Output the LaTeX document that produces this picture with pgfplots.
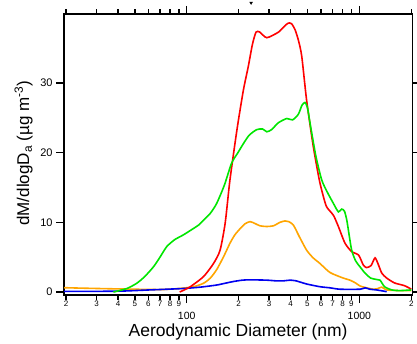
\documentclass[border=0pt]{standalone}
\usepackage{pgfplots}
\pgfplotsset{compat=1.18}
\usepackage{fontspec}
\setmainfont{Liberation Sans}
\definecolor{cred}{RGB}{255,0,0}
\definecolor{cgreen}{RGB}{0,230,0}
\definecolor{corange}{RGB}{255,165,0}
\definecolor{cblue}{RGB}{0,0,240}
\begin{document}
\begin{tikzpicture}
\begin{axis}[
  name=ax,
  scale only axis,
  width=348.3pt, height=281pt,
  xmode=log,
  xmin=19.45, xmax=2027,
  ymin=-0.43, ymax=39.9,
  clip=false,
  axis line style={line width=1.6pt},
  tick style={line width=1.5pt, black},
  tick align=outside,
  major tick length=4.5pt,
  minor xtick={},
  xtick={20,30,40,50,60,70,80,90,200,300,400,500,600,700,800,900,2000},
  xticklabels={2,3,4,5,6,7,8,9,2,3,4,5,6,7,8,9,2},
  xticklabel style={font=\fontsize{8}{9}\selectfont, inner sep=1pt},
  extra x ticks={100,1000},
  extra x tick labels={100,1000},
  extra x tick style={major tick length=8pt,
     xticklabel style={font=\fontsize{10.5}{12}\selectfont, yshift=-8pt}},
  ytick=\empty,
  extra y ticks={0,10,20,30},
  extra y tick style={major tick length=8pt},
  yticklabel style={font=\fontsize{11}{13}\selectfont},
  y tick label style={/pgf/number format/assume math mode=true},
  xlabel={Aerodynamic Diameter (nm)},
  xlabel style={font=\fontsize{17.5}{20}\selectfont, at={(axis description cs:0.5,-0.146)}, anchor=base},
  ylabel={dM/dlogD\textsubscript{a} (µg m\textsuperscript{-3})},
  ylabel style={font=\fontsize{17}{20}\selectfont, at={(axis description cs:-0.10,0.505)}, anchor=base},
]
\addplot[corange, line width=1.6pt, smooth, tension=0.4] coordinates {
(19.45,0.62) (25,0.55) (39,0.45) (70,0.35) (90,0.5) (109,0.75) (125,1.25) (137,2.0) (149,3.2) (163,5.0) (178,7.0) (190,8.2) (204,9.1) (218,9.8) (233,10.1) (250,9.8) (266,9.5) (290,9.4) (318,9.5) (347,10.0) (371,10.2) (390,10.1) (415,9.6) (450,7.9) (495,6.0) (540,4.9) (591,4.1) (676,2.8) (807,2.0) (883,1.7) (950,1.3) (1010,0.86) (1100,0.6) (1208,0.4) (1280,0.5) (1350,0.7) (1440,0.3) (1720,0.2) (2000,0.2)
};
\addplot[cblue, line width=1.6pt, smooth, tension=0.4] coordinates {
(19.45,0.08) (40,0.12) (61,0.3) (95,0.5) (120,0.7) (149,1.0) (170,1.3) (186,1.5) (210,1.7) (233,1.75) (291,1.7) (330,1.6) (363,1.6) (397,1.7) (430,1.6) (495,1.15) (591,0.76) (676,0.6) (772,0.4) (1010,0.4) (1080,0.6) (1150,0.4) (1258,0.3) (1440,0.05)
};
\addplot[cred, line width=1.6pt, smooth, tension=0.4] coordinates {
(91,0) (104,0.7) (125,2.2) (143,4.1) (156,6.0) (167,9.9) (178,16.1) (196,23.5) (213,29) (227,32.3) (240,35.5) (252,37.3) (265,37.3) (291,36.5) (340,37.3) (370,38.2) (388,38.6) (405,38.5) (425,37.6) (445,36) (464,33.8) (495,27.5) (540,21) (586,16.1) (619,13.7) (647,12.2) (708,11) (756,9.4) (826,7.0) (903,5.8) (990,5.3) (1053,3.9) (1100,3.5) (1170,3.8) (1233,4.9) (1290,3.9) (1350,2.7) (1440,2.0) (1600,1.3) (1830,0.9) (2000,0.4)
};
\addplot[cgreen, line width=1.6pt, smooth, tension=0.4] coordinates {
(37.6,0) (45,0.5) (51.3,1.25) (57,2.2) (64.1,3.6) (70,5.0) (76.5,6.5) (85,7.5) (95.6,8.2) (106,8.9) (117,9.6) (125,10.3) (137,11.3) (149,12.7) (165,15.3) (182,18.5) (198,20) (213,21.3) (230,22.5) (254,23.3) (275,23.4) (291,23.0) (310,23.3) (340,24.3) (380,24.9) (410,24.7) (443,25.5) (465,26.8) (484,27.2) (500,26.5) (520,24) (560,19.5) (605,16.1) (650,14.4) (708,12.7) (756,11.5) (790,11.9) (820,11.6) (846,10.3) (875,8) (903,6.0) (950,4.5) (1010,3.6) (1080,2.7) (1163,2.0) (1258,1.8) (1318,1.7) (1400,0.76) (1542,0.3) (1720,0.2) (2000,0.3)
};
\addplot[only marks, mark=triangle*, mark options={rotate=180, fill=black}, mark size=1.6pt] coordinates {(236,41.5)};
\end{axis}
\pgfresetboundingbox
\path[use as bounding box] ([shift={(-64pt,-48pt)}]ax.south west) rectangle ([shift={(4.7pt,14pt)}]ax.north east);
\end{tikzpicture}
\end{document}
